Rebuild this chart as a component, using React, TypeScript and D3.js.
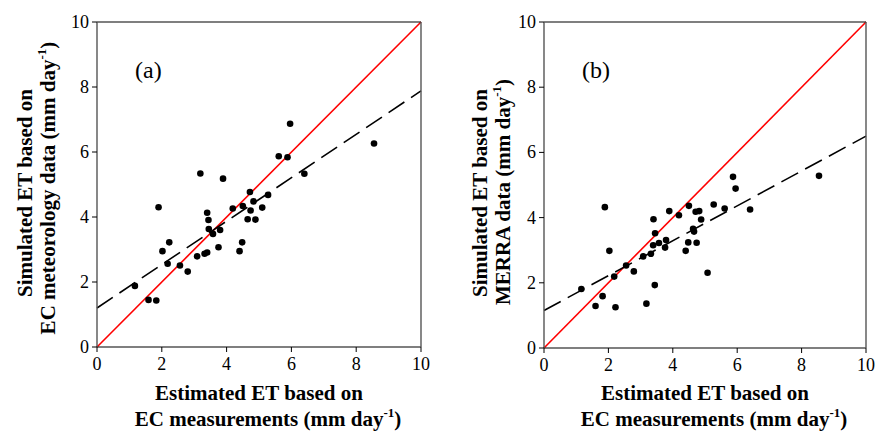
import React from "react";
import * as d3 from "d3";

const ticks = [0, 2, 4, 6, 8, 10];

const aX = [5.96, 5.61, 5.88, 3.19, 3.89, 1.90, 4.72, 5.28, 4.19, 4.50, 4.83, 4.74, 5.10, 3.40, 3.44, 4.65, 4.89, 3.45, 3.58, 3.80, 2.23, 2.02, 3.75, 4.48, 4.40, 3.32, 3.40, 3.09, 2.18, 2.56, 2.80, 1.17, 1.59, 1.83, 6.40, 8.55];
const aY = [6.87, 5.87, 5.84, 5.34, 5.18, 4.30, 4.77, 4.68, 4.26, 4.34, 4.48, 4.20, 4.29, 4.13, 3.91, 3.93, 3.92, 3.63, 3.48, 3.60, 3.22, 2.95, 3.07, 3.22, 2.95, 2.87, 2.91, 2.79, 2.56, 2.51, 2.32, 1.88, 1.45, 1.43, 5.33, 6.26];

const bX = [5.87, 5.95, 1.89, 4.50, 5.27, 5.61, 3.89, 4.71, 4.82, 4.19, 3.40, 4.88, 3.45, 4.63, 4.66, 3.79, 3.57, 3.39, 3.76, 4.48, 4.74, 4.40, 3.32, 3.08, 2.03, 2.55, 2.18, 2.79, 1.16, 5.08, 3.44, 1.82, 1.60, 2.22, 3.18, 6.40, 8.54];
const bY = [5.25, 4.89, 4.32, 4.36, 4.40, 4.28, 4.20, 4.18, 4.20, 4.07, 3.95, 3.94, 3.52, 3.66, 3.57, 3.31, 3.22, 3.15, 3.08, 3.24, 3.23, 2.98, 2.89, 2.81, 2.98, 2.53, 2.19, 2.35, 1.81, 2.31, 1.93, 1.59, 1.29, 1.25, 1.36, 4.25, 5.28];

const fitA = [1.2, 0.668];
const fitB = [1.15, 0.535];

const serif = "Liberation Serif";

function Panel({ left, top, right, bottom, xs, ys, fit, tag, yLine1, yLine2, yl1x, yl2x, ycy }) {
  const x = d3.scaleLinear().domain([0, 10]).range([left, right]);
  const y = d3.scaleLinear().domain([0, 10]).range([bottom, top]);
  const cx = (left + right) / 2;
  return (
    <g>
      <line x1={x(0)} y1={y(0)} x2={x(10)} y2={y(10)} stroke="#ff0000" strokeWidth={1.6} />
      <line x1={x(0)} y1={y(fit[0])} x2={x(10)} y2={y(fit[0] + fit[1] * 10)} stroke="#000" strokeWidth={1.6} strokeDasharray="19,8" />
      {xs.map((v, i) => (
        <circle key={i} cx={x(v)} cy={y(ys[i])} r={3.3} fill="#000" />
      ))}
      <line x1={left} y1={top} x2={right} y2={top} stroke="#000" strokeWidth={1.2} />
      <line x1={left} y1={bottom} x2={right} y2={bottom} stroke="#000" strokeWidth={1.2} />
      <line x1={left} y1={top} x2={left} y2={bottom} stroke="#555" strokeWidth={1.4} />
      <line x1={right} y1={top} x2={right} y2={bottom} stroke="#555" strokeWidth={1.4} />
      {ticks.map((t) => (
        <g key={"x" + t}>
          <line x1={x(t)} y1={bottom} x2={x(t)} y2={bottom + 5} stroke="#000" strokeWidth={1} />
          <text x={x(t)} y={bottom + 23} textAnchor="middle" fontFamily={serif} fontSize={18}>{t}</text>
        </g>
      ))}
      {ticks.map((t) => (
        <g key={"y" + t}>
          <line x1={left - 5} y1={y(t)} x2={left} y2={y(t)} stroke="#000" strokeWidth={1} />
          <text x={left - 8} y={y(t) + 6} textAnchor="end" fontFamily={serif} fontSize={18}>{t}</text>
        </g>
      ))}
      <text x={left + 38} y={78} fontFamily={serif} fontSize={24}>{tag}</text>
      <text x={cx} y={400} textAnchor="middle" fontFamily={serif} fontSize={21} fontWeight="bold">Estimated ET based on</text>
      <text x={cx + 9} y={426} textAnchor="middle" fontFamily={serif} fontSize={21} fontWeight="bold">
        EC measurements (mm day<tspan dy={-9} fontSize={13}>-1</tspan><tspan dy={9}>)</tspan>
      </text>
      <text transform={`translate(${yl1x},193) rotate(-90)`} textAnchor="middle" fontFamily={serif} fontSize={21} fontWeight="bold">{yLine1}</text>
      <text transform={`translate(${yl2x},${ycy}) rotate(-90)`} textAnchor="middle" fontFamily={serif} fontSize={21} fontWeight="bold">
        {yLine2}<tspan dy={-9} fontSize={13}>-1</tspan><tspan dy={9}>)</tspan>
      </text>
    </g>
  );
}

export default function App() {
  return (
    <svg width={875} height={432} style={{ position: "absolute", left: 0, top: 0, background: "#fff" }}>
      <rect width={875} height={432} fill="#fff" />
      <Panel left={97} top={22} right={421} bottom={347} xs={aX} ys={aY} fit={fitA} tag="(a)"
        yLine1="Simulated ET based on" yLine2="EC meteorology data (mm day" yl1x={32} yl2x={55} ycy={188} />
      <Panel left={544} top={22} right={866} bottom={348} xs={bX} ys={bY} fit={fitB} tag="(b)"
        yLine1="Simulated ET based on" yLine2="MERRA data (mm day" yl1x={487} yl2x={510} ycy={192} />
    </svg>
  );
}
